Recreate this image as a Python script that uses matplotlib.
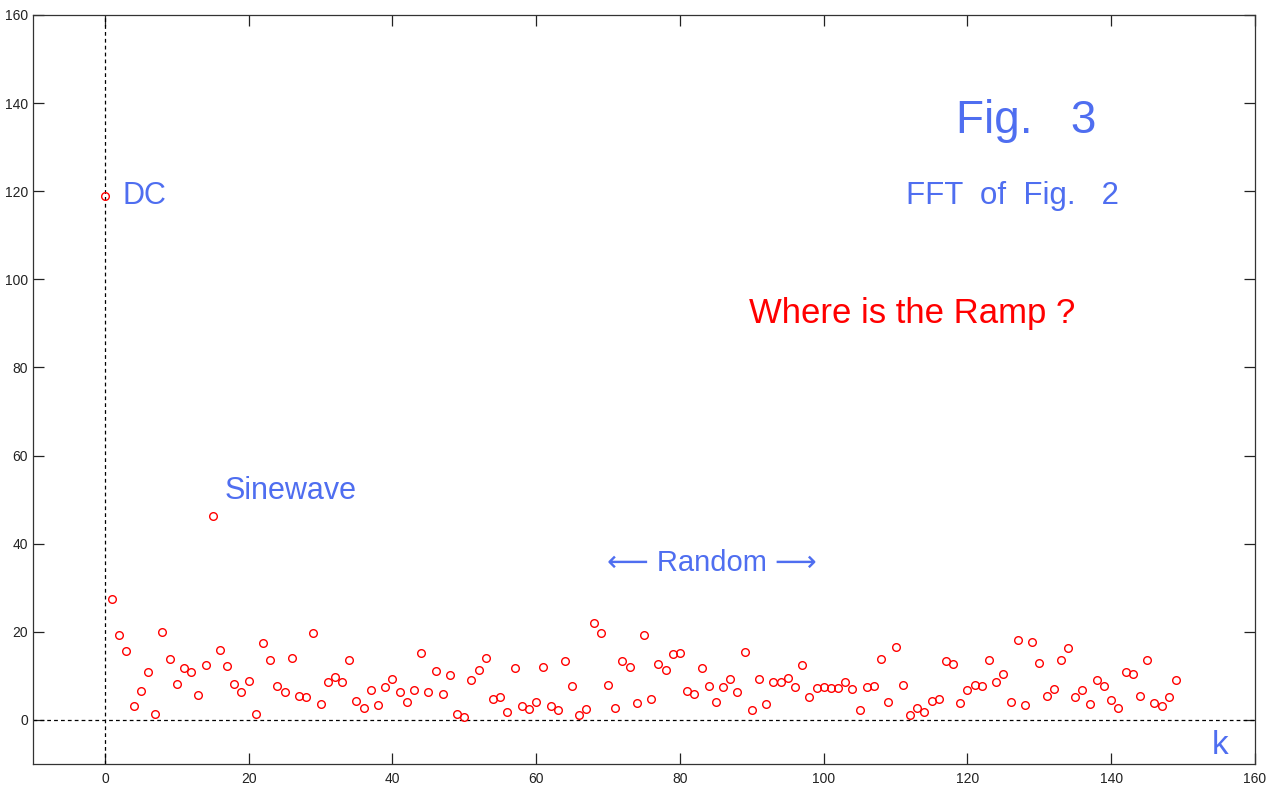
import numpy as np
import matplotlib
matplotlib.use("Agg")
import matplotlib.pyplot as plt

# ---------------- data ----------------
k = np.arange(150)
mag = [119.0, 27.5, 19.3, 15.7, 3.2, 6.6, 10.9, 1.4, 20.0, 13.9,
       8.2, 11.8, 10.9, 5.7, 12.5, 46.4, 15.9, 12.3, 8.2, 6.4,
       8.9, 1.4, 17.5, 13.6, 7.7, 6.4, 14.1, 5.5, 5.2, 19.8,
       3.6, 8.6, 9.8, 8.6, 13.6, 4.3, 2.7, 6.8, 3.4, 7.5,
       9.3, 6.4, 4.1, 6.8, 15.2, 6.4, 11.1, 5.9, 10.2, 1.4,
       0.7, 9.1, 11.4, 14.1, 4.8, 5.2, 1.8, 11.8, 3.2, 2.5,
       4.1, 12.0, 3.2, 2.3, 13.4, 7.7, 1.1, 2.5, 22.0, 19.8,
       8.0, 2.7, 13.4, 12.0, 3.9, 19.3, 4.8, 12.7, 11.4, 15.0,
       15.2, 6.6, 5.9, 11.8, 7.7, 4.1, 7.5, 9.3, 6.4, 15.5,
       2.3, 9.3, 3.6, 8.6, 8.6, 9.5, 7.5, 12.5, 5.2, 7.3,
       7.5, 7.3, 7.3, 8.6, 7.0, 2.3, 7.5, 7.7, 13.9, 4.1,
       16.6, 8.0, 1.1, 2.7, 1.8, 4.3, 4.8, 13.4, 12.7, 3.9,
       6.8, 8.0, 7.7, 13.6, 8.6, 10.5, 4.1, 18.2, 3.4, 17.7,
       13.0, 5.5, 7.0, 13.6, 16.4, 5.2, 6.8, 3.6, 9.1, 7.7,
       4.5, 2.7, 10.9, 10.5, 5.5, 13.6, 3.9, 3.2, 5.2, 9.1]

ticks = np.arange(0, 161, 20)

# ---------------- plot ----------------
plt.rcParams['font.family'] = ['Liberation Sans', 'DejaVu Sans']
blue = '#4f6ef0'
red = '#ff0000'

fig = plt.figure(figsize=(12.75, 7.85), dpi=100)
ax = fig.add_axes([33/1275, 21/785, 1222/1275, 749/785])

ax.axvline(0, color='black', ls=(0, (3, 2.5)), lw=0.9)
ax.axhline(0, color='black', ls=(0, (3, 2.5)), lw=0.9)
ax.plot(k, mag, 'o', mfc='none', mec=red, ms=5.5, mew=1.0)

ax.set_xlim(-10, 160)
ax.set_ylim(-10, 160)
ax.set_xticks(ticks)
ax.set_yticks(ticks)
ax.tick_params(direction='in', length=8, width=0.9, labelsize=10,
               top=True, right=True, colors='#222222')
ax.tick_params(axis='x', pad=5.5)
ax.tick_params(axis='y', pad=3.5)
for s in ax.spines.values():
    s.set_linewidth(0.9)
    s.set_color('#333333')

ax.text(2.4, 118.9, 'DC', color=blue, fontsize=22, va='center')
ax.text(16.6, 52, 'Sinewave', color=blue, fontsize=22, va='center')
ax.text(84.4, 35.7, '\u27f5 Random \u27f6', color=blue, fontsize=21,
        va='center', ha='center')
ax.text(128.1, 136, 'Fig.   3', color=blue, fontsize=33, va='center', ha='center')
ax.text(126.2, 119, 'FFT  of  Fig.   2', color=blue, fontsize=22.5, va='center', ha='center')
ax.text(112.3, 92.3, 'Where is the Ramp ?', color=red, fontsize=25, va='center', ha='center')
ax.text(155.1, -5.9, 'k', color=blue, fontsize=24, va='center', ha='center')

fig.savefig('out.png', dpi=100)
